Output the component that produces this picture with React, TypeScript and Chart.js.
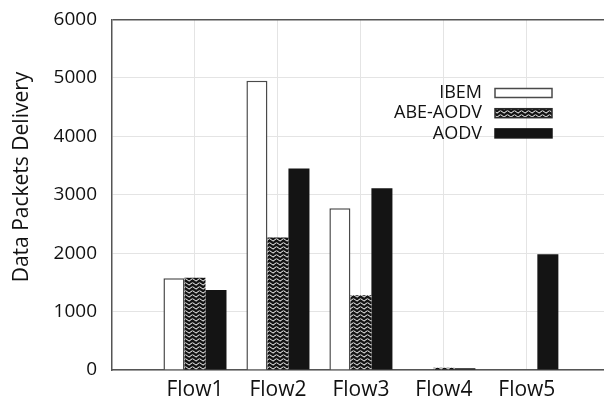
import React, { useEffect, useRef } from 'react';
import { Chart, registerables } from 'chart.js';

Chart.register(...registerables);

// Flow positions on the x axis and their labels
const FLOWS = ['Flow1', 'Flow2', 'Flow3', 'Flow4', 'Flow5'];
const FLOW_POS = [1, 2, 3, 4, 5];
// Separators drawn between neighbouring flows
const SEPARATORS = [1.5, 2.5, 3.5, 4.5, 5.5];

// Delivered data packets per protocol
const SERIES_NAMES = ['IBEM', 'ABE-AODV', 'AODV'];
const IBEM = [1570, 4950, 2770, 0, 0];
const ABE_AODV = [1580, 2270, 1280, 40, 0];
const AODV = [1370, 3450, 3110, 30, 1980];

const Y_MIN = 0;
const Y_MAX = 6000;
const Y_STEP = 1000;
const X_MAX = 5.93;

const Y_TITLE = 'Data Packets Delivery';
const FONT = '"Open Sans", "Noto Sans", sans-serif';
const TEXT = '#111111';
const FRAME = '#555555';
const GRID = '#e4e4e4';

function chevronPattern(): CanvasPattern | string {
  const tile = document.createElement('canvas');
  tile.width = 7;
  tile.height = 4;
  const t = tile.getContext('2d');
  if (!t) return '#777';
  t.fillStyle = '#ffffff';
  t.fillRect(0, 0, 7, 4);
  t.strokeStyle = '#141414';
  t.lineWidth = 2.4;
  for (const dy of [-4, 0, 4]) {
    t.beginPath();
    t.moveTo(-0.5, 3.5 + dy);
    t.lineTo(3.5, 0.5 + dy);
    t.lineTo(7.5, 3.5 + dy);
    t.stroke();
  }
  const p = t.createPattern(tile, 'repeat');
  return p ?? '#777';
}

const legendPlugin = {
  id: 'insetLegend',
  afterDraw(chart: Chart) {
    const ctx = chart.ctx;
    const textRight = 482;
    const boxLeft = 495;
    const boxW = 57;
    const boxH = 9;
    ctx.save();
    ctx.font = `18px ${FONT}`;
    ctx.textAlign = 'right';
    ctx.textBaseline = 'middle';
    chart.data.datasets.forEach((ds: any, i: number) => {
      const cy = 93 + i * 20.2;
      ctx.fillStyle = TEXT;
      ctx.fillText(String(ds.label), textRight, cy);
      ctx.fillStyle = ds.backgroundColor;
      ctx.fillRect(boxLeft, cy - boxH / 2, boxW, boxH);
      ctx.strokeStyle = ds.borderColor;
      ctx.lineWidth = 1.5;
      ctx.strokeRect(boxLeft, cy - boxH / 2, boxW, boxH);
    });
    ctx.restore();
  },
};

const yTitlePlugin = {
  id: 'yTitle',
  afterDraw(chart: Chart) {
    const ctx = chart.ctx;
    ctx.save();
    ctx.translate(22, 177);
    ctx.rotate(-Math.PI / 2);
    ctx.font = `21px ${FONT}`;
    ctx.fillStyle = TEXT;
    ctx.textAlign = 'center';
    ctx.textBaseline = 'middle';
    ctx.fillText(Y_TITLE, 0, 0);
    ctx.restore();
  },
};

export default function App() {
  const canvasRef = useRef<HTMLCanvasElement | null>(null);

  useEffect(() => {
    document.body.style.margin = '0';
    const canvas = canvasRef.current;
    if (!canvas) return;
    const pattern = chevronPattern();
    const toPoints = (vals: number[]) => vals.map((y, i) => ({ x: FLOW_POS[i], y }));

    const chart = new Chart(canvas, {
      type: 'bar',
      data: {
        datasets: [
          {
            label: SERIES_NAMES[0],
            data: toPoints(IBEM),
            backgroundColor: '#ffffff',
            borderColor: '#4a4a4a',
            borderWidth: 1.5,
          },
          {
            label: SERIES_NAMES[1],
            data: toPoints(ABE_AODV),
            backgroundColor: pattern as any,
            borderColor: '#2a2a2a',
            borderWidth: 0,
          },
          {
            label: SERIES_NAMES[2],
            data: toPoints(AODV),
            backgroundColor: '#141414',
            borderColor: '#141414',
            borderWidth: 0,
          },
        ],
      },
      options: {
        responsive: false,
        animation: false,
        layout: { padding: { top: 19.5, right: 0, bottom: 0, left: 0 } },
        datasets: {
          bar: { categoryPercentage: 0.76, barPercentage: 1 },
        },
        plugins: {
          legend: { display: false },
          tooltip: { enabled: false },
        },
        scales: {
          x: {
            type: 'linear',
            position: 'bottom',
            min: 0,
            max: X_MAX,
            offset: false,
            afterBuildTicks: (scale: any) => {
              scale.ticks = FLOW_POS.map((v) => ({ value: v }));
            },
            afterFit: (scale: any) => {
              scale.height = 37;
              scale.paddingLeft = 0;
              scale.paddingRight = 0;
            },
            ticks: {
              callback: (_v: any, index: number) => FLOWS[index],
              font: { family: FONT, size: 21 },
              color: TEXT,
              padding: 7,
              maxRotation: 0,
              autoSkip: false,
            },
            grid: { display: false, drawTicks: false },
            border: { color: FRAME, width: 1.5 },
          },
          xSep: {
            type: 'linear',
            position: 'bottom',
            min: 0,
            max: X_MAX,
            offset: false,
            afterBuildTicks: (scale: any) => {
              scale.ticks = SEPARATORS.map((v) => ({ value: v }));
            },
            afterFit: (scale: any) => {
              scale.height = 0;
              scale.paddingLeft = 0;
              scale.paddingRight = 0;
            },
            ticks: { display: false },
            grid: { color: GRID, lineWidth: 1, drawTicks: false },
            border: { display: false },
          },
          y: {
            type: 'linear',
            min: Y_MIN,
            max: Y_MAX,
            afterFit: (scale: any) => {
              scale.width = 112;
              scale.paddingTop = 0;
              scale.paddingBottom = 0;
            },
            ticks: {
              stepSize: Y_STEP,
              callback: (v: any) => String(v),
              font: { family: FONT, size: 19 },
              color: TEXT,
              padding: 15,
            },
            grid: {
              drawTicks: false,
              color: (c: any) => (c.tick && c.tick.value === Y_MAX ? FRAME : GRID),
              lineWidth: (c: any) => (c.tick && c.tick.value === Y_MAX ? 1.5 : 1),
            },
            border: { color: FRAME, width: 1.5 },
          },
        },
      },
      plugins: [legendPlugin, yTitlePlugin],
    });

    return () => chart.destroy();
  }, []);

  return (
    <div style={{ width: 604, height: 407, background: '#ffffff' }}>
      <canvas ref={canvasRef} width={604} height={407} />
    </div>
  );
}
